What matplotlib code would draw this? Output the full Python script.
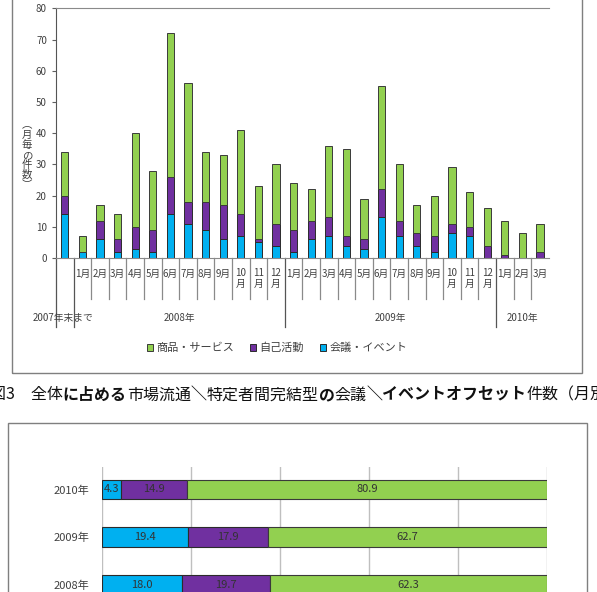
import matplotlib
matplotlib.use("Agg")
import matplotlib.pyplot as plt
from matplotlib.patches import Rectangle

plt.rcParams['font.family'] = ['Noto Sans CJK JP', 'DejaVu Sans']

# === DATA: monthly counts (top chart) ===
month_labels = ["",
                "1月", "2月", "3月", "4月", "5月", "6月", "7月", "8月", "9月", "10\n月", "11\n月", "12\n月",
                "1月", "2月", "3月", "4月", "5月", "6月", "7月", "8月", "9月", "10\n月", "11\n月", "12\n月",
                "1月", "2月", "3月"]
year_labels = ["2007年末まで", "2008年", "2009年", "2010年"]
year_sizes = [1, 12, 12, 3]

meeting = [14, 2, 6, 2, 3, 2, 14, 11, 9, 6, 7, 5, 4,
           2, 6, 7, 4, 3, 13, 7, 4, 2, 8, 7, 0,
           0, 0, 0]
self_act = [6, 0, 6, 4, 7, 7, 12, 7, 9, 11, 7, 1, 7,
            7, 6, 6, 3, 3, 9, 5, 4, 5, 3, 3, 4,
            1, 0, 2]
goods = [14, 5, 5, 8, 30, 19, 46, 38, 16, 16, 27, 17, 19,
         15, 10, 23, 28, 13, 33, 18, 9, 13, 18, 11, 12,
         11, 8, 9]

# === DATA: yearly share in % (bottom chart) ===
share_years = ["2008年", "2009年", "2010年"]
share_meeting = [18.0, 19.4, 4.3]
share_self = [19.7, 17.9, 14.9]
share_goods = [62.3, 62.7, 80.9]

GREEN = "#92D050"
PURPLE = "#7030A0"
BLUE = "#00B0F0"
EDGE = "#2b2b2b"
TXT = "#404040"

W, H = 597, 592
def fx(px): return px / W
def fy(py): return 1 - py / H

fig = plt.figure(figsize=(W / 100, H / 100), dpi=100)

# === TOP CHART ===
top_y0, top_y80 = 258.0, 8.3
ax1 = fig.add_axes([fx(56), fy(top_y0), fx(548.8) - fx(56), (top_y0 - top_y80) / H])
x = list(range(len(meeting)))
bottom2 = meeting
bottom3 = [a + b for a, b in zip(meeting, self_act)]
b1 = ax1.bar(x, meeting, width=0.42, color=BLUE, edgecolor=EDGE, linewidth=0.7, label="会議・イベント")
b2 = ax1.bar(x, self_act, width=0.42, bottom=bottom2, color=PURPLE, edgecolor=EDGE, linewidth=0.7, label="自己活動")
b3 = ax1.bar(x, goods, width=0.42, bottom=bottom3, color=GREEN, edgecolor="#3a3a3a", linewidth=0.7, label="商品・サービス")

ax1.set_xlim(-0.5, len(meeting) - 0.5)
ax1.set_ylim(0, 80)
ax1.set_yticks(range(0, 81, 10))
ax1.set_xticks([])
ax1.tick_params(axis="y", labelsize=7, labelcolor=TXT, color="#606060", length=3, width=0.8)
ax1.spines["right"].set_visible(False)
ax1.spines["left"].set_color("#555555")
ax1.spines["bottom"].set_color("#8a8a8a")
ax1.spines["top"].set_color("#8a8a8a")

def ay(py):
    return (top_y0 - py) / (top_y0 - top_y80)

trans = ax1.get_xaxis_transform()
# category separators
long_edges = [-0.5]
acc = -0.5
for n in year_sizes[:-1]:
    acc += n
    long_edges.append(acc)
for i in range(len(meeting)):
    edge = i - 0.5
    if edge in long_edges:
        ax1.plot([edge, edge], [0, ay(327)], transform=trans, color="#555555", lw=0.9, clip_on=False)
    else:
        ax1.plot([edge, edge], [0, ay(299)], transform=trans, color="#8a8a8a", lw=0.9, clip_on=False)

for i, lab in enumerate(month_labels):
    ax1.text(i, ay(268.5), lab, transform=trans, ha="center", va="top", fontsize=7,
             color=TXT, linespacing=1.05)

start = -0.5
for lab, n in zip(year_labels, year_sizes):
    cx = start + n / 2
    if n == 1:
        cx = start + 0.4
    ax1.text(cx, ay(318), lab, transform=trans, ha="center", va="center", fontsize=7, color=TXT)
    start += n

# vertical y label
ax1.text(fx(27), fy(155), "︵\n月\n毎\nの\n件\n数\n︶", transform=fig.transFigure, ha="center",
         va="center", fontsize=7.5, color=TXT, linespacing=0.98)

fig.legend(handles=[b3, b2, b1], labels=["商品・サービス", "自己活動", "会議・イベント"],
           loc="center", bbox_to_anchor=(fx(277), fy(348)), ncol=3, frameon=False,
           fontsize=8, handlelength=0.55, handleheight=0.55, handletextpad=0.25,
           columnspacing=1.5, labelcolor=TXT)

# frame of the top chart
fig.add_artist(Rectangle((fx(12), fy(373)), fx(582) - fx(12), 1.2, transform=fig.transFigure,
                         fill=False, edgecolor="#7f7f7f", lw=1.0))

# === CAPTION (mixed weight) ===
segments = [("図3　全体", "normal"), ("に占める", "bold"), ("市場流通", "normal"), ("＼", "bold"),
            ("特定者間完結型", "normal"), ("の", "bold"), ("会議", "normal"),
            ("＼イベントオフセット", "bold"), ("件数（月別）", "normal")]
renderer = fig.canvas.get_renderer()
cur = -10.0
for seg, wt in segments:
    t = fig.text(fx(cur), fy(395), seg, ha="left", va="center", fontsize=11.5,
                 fontweight=wt, color="#111111")
    bb = t.get_window_extent(renderer=renderer)
    cur += bb.width

# === BOTTOM CHART ===
ax_top_px, ax_bot_px = 467.0, 640.0
y2010, step = 489.5, 47.5
ax2 = fig.add_axes([fx(102), fy(ax_bot_px), fx(547) - fx(102), (ax_bot_px - ax_top_px) / H])
ypos = list(range(len(share_years)))
left2 = share_meeting
left3 = [a + b for a, b in zip(share_meeting, share_self)]
h1 = ax2.barh(ypos, share_meeting, height=0.41, color=BLUE, edgecolor=EDGE, linewidth=0.8, zorder=3)
h2 = ax2.barh(ypos, share_self, height=0.41, left=left2, color=PURPLE, edgecolor=EDGE, linewidth=0.8, zorder=3)
h3 = ax2.barh(ypos, share_goods, height=0.41, left=left3, color=GREEN, edgecolor="#3a3a3a", linewidth=0.8, zorder=3)
for cont in (h1, h2, h3):
    ax2.bar_label(cont, fmt="%.1f", label_type="center", fontsize=8, color="#333333", zorder=4)

top_lim = len(share_years) - 1 + (y2010 - ax_top_px) / step
ax2.set_ylim(top_lim - (ax_bot_px - ax_top_px) / step, top_lim)
ax2.set_xlim(0, 100)
ax2.set_xticks(range(0, 101, 20))
ax2.set_xticklabels([])
ax2.tick_params(axis="x", length=0)
ax2.set_yticks(ypos)
ax2.set_yticklabels(share_years)
ax2.tick_params(axis="y", length=0, pad=9, labelsize=8, labelcolor=TXT)
ax2.grid(axis="x", color="#bfbfbf", lw=1.0, zorder=0)
for s in ax2.spines.values():
    s.set_visible(False)

fig.add_artist(Rectangle((fx(8), fy(700)), fx(587) - fx(8), fy(423) - fy(700), transform=fig.transFigure,
                         fill=False, edgecolor="#7f7f7f", lw=1.0))

fig.savefig("out.png", dpi=100)
